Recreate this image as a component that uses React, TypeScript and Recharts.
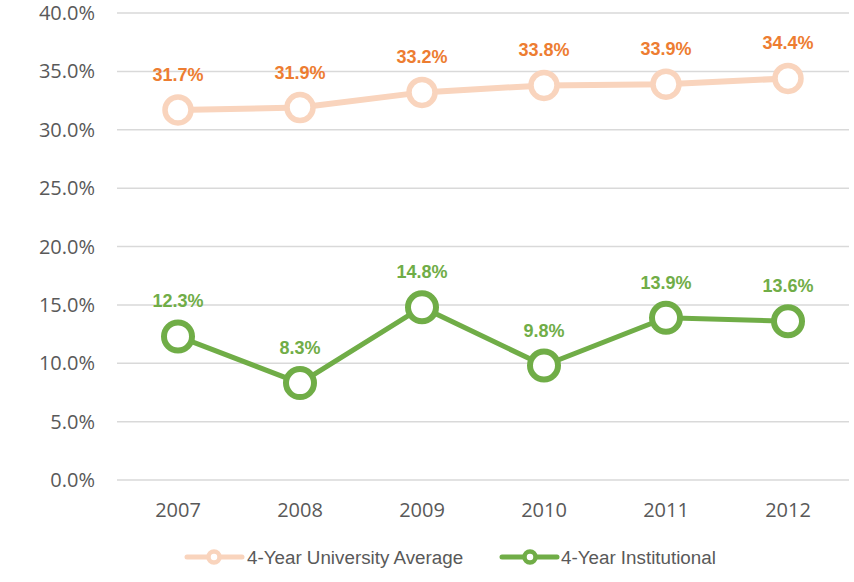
import React from 'react';
import { LineChart, Line, XAxis, YAxis, CartesianGrid, LabelList } from 'recharts';

const years = ['2007', '2008', '2009', '2010', '2011', '2012'];
const universityAverage = [31.7, 31.9, 33.2, 33.8, 33.9, 34.4];
const institutional = [12.3, 8.3, 14.8, 9.8, 13.9, 13.6];
const yTicks = [0, 5, 10, 15, 20, 25, 30, 35, 40];
const seriesNames = ['4-Year University Average', '4-Year Institutional'];

const ORANGE_LINE = '#F9D4BD';
const ORANGE_TEXT = '#ED7D31';
const GREEN = '#70AD47';

const data = years.map((y, i) => ({ year: y, avg: universityAverage[i], inst: institutional[i] }));

const makeLabel = (color: string) => (props: any) => {
  const { x, y, value } = props;
  return (
    <text
      x={x}
      y={y - 35}
      textAnchor="middle"
      dominantBaseline="central"
      fill={color}
      fontFamily="'Liberation Sans', Arial, sans-serif"
      fontWeight="bold"
      fontSize={18}
    >
      {Number(value).toFixed(1)}%
    </text>
  );
};

const legendItems = [
  { name: seriesNames[0], color: ORANGE_LINE, x1: 187, x2: 242, cx: 214, tx: 247 },
  { name: seriesNames[1], color: GREEN, x1: 502, x2: 557, cx: 530, tx: 561 },
];

const LegendBox = () => (
  <svg width={854} height={40} style={{ position: 'absolute', left: 0, top: 538, display: 'block' }}>
    {legendItems.map((it) => (
      <g key={it.name}>
        <line x1={it.x1} x2={it.x2} y1={19} y2={19} stroke={it.color} strokeWidth={5} strokeLinecap="round" />
        <circle cx={it.cx} cy={19} r={5.5} fill="#fff" stroke={it.color} strokeWidth={4.5} />
        <text x={it.tx} y={19} dominantBaseline="central" fill="#595959" fontSize={18.8} fontFamily="'Liberation Sans', Arial, sans-serif">
          {it.name}
        </text>
      </g>
    ))}
  </svg>
);

export default function App() {
  return (
    <div style={{ position: 'absolute', left: 0, top: 0, width: 854, height: 582, background: '#fff' }}>
      <LineChart width={854} height={582} data={data} margin={{ top: 13, right: 5, bottom: 72, left: 0 }}>
        <CartesianGrid vertical={false} stroke="#d9d9d9" strokeWidth={1.5} />
        <XAxis
          dataKey="year"
          height={30}
          axisLine={false}
          tickLine={false}
          tickSize={0}
          tickMargin={23}
          padding={{ left: 61, right: 61 }}
          tick={{ fill: '#595959', fontSize: 20, fontFamily: "'Open Sans', sans-serif" }}
        />
        <YAxis
          domain={[0, 40]}
          ticks={yTicks}
          width={117}
          axisLine={false}
          tickLine={false}
          tickSize={0}
          tickMargin={22}
          tickFormatter={(v: number) => v.toFixed(1) + '%'}
          tick={{ fill: '#595959', fontSize: 20, fontFamily: "'Open Sans', sans-serif" }}
        />
        <Line
          dataKey="avg"
          name={seriesNames[0]}
          stroke={ORANGE_LINE}
          strokeWidth={6}
          dot={{ r: 13, fill: '#fff', stroke: ORANGE_LINE, strokeWidth: 5.5 }}
          activeDot={false}
          isAnimationActive={false}
        >
          <LabelList dataKey="avg" content={makeLabel(ORANGE_TEXT)} />
        </Line>
        <Line
          dataKey="inst"
          name={seriesNames[1]}
          stroke={GREEN}
          strokeWidth={5}
          dot={{ r: 14, fill: '#fff', stroke: GREEN, strokeWidth: 6 }}
          activeDot={false}
          isAnimationActive={false}
        >
          <LabelList dataKey="inst" content={makeLabel(GREEN)} />
        </Line>
      </LineChart>
      <LegendBox />
    </div>
  );
}
